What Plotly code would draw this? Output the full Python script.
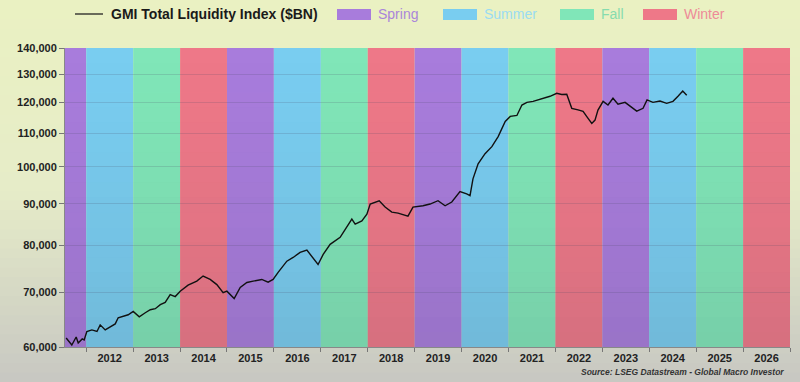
import plotly.graph_objects as go
import math

# ---------------- data ----------------
dates = [
    "2011-07-29", "2011-09-11", "2011-10-15", "2011-10-31", "2011-12-01", "2011-12-16",
    "2012-01-06", "2012-02-14", "2012-03-25", "2012-04-19", "2012-05-28", "2012-07-06",
    "2012-08-14", "2012-09-06", "2012-10-15", "2012-11-23", "2013-01-01", "2013-02-17",
    "2013-04-05", "2013-05-14", "2013-06-22", "2013-07-31", "2013-09-07", "2013-10-16",
    "2013-11-24", "2014-01-02", "2014-03-04", "2014-05-11", "2014-06-29", "2014-08-23",
    "2014-10-14", "2014-12-02", "2014-12-31", "2015-02-26", "2015-04-14", "2015-06-05",
    "2015-07-24", "2015-09-29", "2015-11-17", "2015-12-26", "2016-02-03", "2016-04-11",
    "2016-05-30", "2016-07-23", "2016-09-14", "2016-10-23", "2016-12-10", "2017-01-19",
    "2017-03-14", "2017-05-31", "2017-08-30", "2017-09-25", "2017-11-16", "2017-12-25",
    "2018-01-20", "2018-03-31", "2018-05-16", "2018-07-07", "2018-08-25", "2018-11-10",
    "2018-12-19", "2019-03-07", "2019-05-01", "2019-07-02", "2019-08-26", "2019-10-17",
    "2019-12-20", "2020-02-10", "2020-03-07", "2020-03-30", "2020-05-09", "2020-07-02",
    "2020-08-24", "2020-10-12", "2020-12-06", "2021-01-14", "2021-03-07", "2021-04-15",
    "2021-05-24", "2021-07-11", "2021-09-17", "2021-11-20", "2022-01-11", "2022-02-19",
    "2022-03-30", "2022-05-08", "2022-06-26", "2022-08-04", "2022-09-12", "2022-10-11",
    "2022-11-05", "2022-11-28", "2023-01-07", "2023-02-14", "2023-03-25", "2023-05-03",
    "2023-06-27", "2023-08-05", "2023-09-26", "2023-11-14", "2023-12-15", "2024-01-30",
    "2024-03-25", "2024-05-16", "2024-07-04", "2024-08-12", "2024-09-18", "2024-10-19",
]
liquidity = [
    61550, 60340, 61730, 60690, 61390, 61210,
    62680, 62980, 62700, 63890, 62980, 63580,
    64060, 65180, 65420, 65740, 66360, 65370,
    66120, 66690, 66880, 67650, 68090, 69610,
    69220, 70280, 71500, 72320, 73370, 72670,
    71610, 70000, 70280, 68820, 71020, 72030,
    72310, 72660, 72100, 72660, 74120, 76520,
    77330, 78440, 78960, 77620, 75810, 78000,
    80260, 81880, 86200, 84980, 85780, 87430,
    89970, 90820, 89200, 87940, 87680, 86930,
    89200, 89530, 89970, 90820, 89530, 90490,
    93190, 92580, 92130, 96630, 100850, 103760,
    105860, 108920, 113680, 115330, 115650, 119110,
    120020, 120360, 121170, 122100, 123150, 122700,
    122800, 118000, 117500, 117000, 114690, 113060,
    114130, 117420, 120360, 119110, 121420, 119360,
    120020, 118670, 117080, 118000, 120830, 120020,
    120470, 119690, 120360, 122100, 123950, 122440,
]

years = list(range(2011, 2027))
season_names = ["Spring", "Summer", "Fall", "Winter"]
season_colors = {"Spring": "#A87CDC", "Summer": "#79CDF0", "Fall": "#80E6B8", "Winter": "#EE7888"}
season_text_colors = {"Spring": "#A985DA", "Summer": "#9ADCF2", "Fall": "#86DCAE", "Winter": "#EE8A98"}
y_ticks = [60000, 70000, 80000, 90000, 100000, 110000, 120000, 130000, 140000]

x_start = "2011-07-20"
x_end = "2027-01-01"

FONT = "Liberation Sans, Arial, sans-serif"

# ---------------- layout helpers ----------------
W, H = 800, 382
L, R, T, B = 65, 10, 48, 35
PW, PH = W - L - R, H - T - B


def px_x(px):
    return (px - L) / PW


def px_y(py):
    return (H - B - py) / PH


shapes = []

# background vertical gradient (yellow-green top -> grey bottom)
top_c = (234, 241, 194)
mid_c = (230, 236, 200)
bot_c = (200, 200, 194)
n = 40
for i in range(n):
    f = i / (n - 1)
    if f < 0.5:
        g = f / 0.5
        c = [round(top_c[k] + (mid_c[k] - top_c[k]) * g) for k in range(3)]
    else:
        g = (f - 0.5) / 0.5
        c = [round(mid_c[k] + (bot_c[k] - mid_c[k]) * g) for k in range(3)]
    y0 = H * i / n
    y1 = H * (i + 1) / n + 1
    shapes.append(dict(type="rect", xref="paper", yref="paper",
                       x0=px_x(-5), x1=px_x(W + 5), y0=px_y(y1), y1=px_y(y0),
                       fillcolor=f"rgb({c[0]},{c[1]},{c[2]})", line=dict(width=0), layer="below"))

# season bands
for i, yr in enumerate(years):
    s = season_names[i % 4]
    x0 = f"{yr}-01-01" if yr > years[0] else x_start
    shapes.append(dict(type="rect", xref="x", yref="paper",
                       x0=x0, x1=f"{yr + 1}-01-01", y0=0, y1=1,
                       fillcolor=season_colors[s], line=dict(width=0), layer="below"))

# darkening toward bottom of plot area
m = 20
for i in range(m):
    f = i / m
    alpha = 0.13 * (1 - f) ** 1.5
    shapes.append(dict(type="rect", xref="paper", yref="paper",
                       x0=0, x1=1, y0=f, y1=f + 1 / m,
                       fillcolor=f"rgba(60,60,70,{alpha:.3f})", line=dict(width=0), layer="below"))

# legend: line sample
shapes.append(dict(type="line", xref="paper", yref="paper",
                   x0=px_x(75), x1=px_x(103), y0=px_y(14), y1=px_y(14),
                   line=dict(color="#222222", width=1.3)))
annotations = [dict(text="GMI Total Liquidity Index ($BN)", xref="paper", yref="paper",
                    x=px_x(109), y=px_y(14), xanchor="left", yanchor="middle", showarrow=False,
                    font=dict(family=FONT, size=14, color="#1a1a1a", weight="bold"))]

leg_box_x = [337, 443, 560, 643]
for s, bx in zip(season_names, leg_box_x):
    shapes.append(dict(type="rect", xref="paper", yref="paper",
                       x0=px_x(bx), x1=px_x(bx + 34), y0=px_y(20), y1=px_y(9),
                       fillcolor=season_colors[s], line=dict(width=0)))
    annotations.append(dict(text=s, xref="paper", yref="paper",
                            x=px_x(bx + 39), y=px_y(14), xanchor="left", yanchor="middle",
                            showarrow=False,
                            font=dict(family=FONT, size=14, color=season_text_colors[s])))

annotations.append(dict(text="<i>Source: LSEG Datastream - Global Macro Investor</i>",
                        xref="paper", yref="paper", x=px_x(786), y=px_y(372),
                        xanchor="right", yanchor="middle", showarrow=False,
                        font=dict(family=FONT, size=8.5, color="#333333", weight="bold")))

fig = go.Figure()
fig.add_trace(go.Scatter(x=dates, y=liquidity, mode="lines",
                         line=dict(color="#111111", width=1.4),
                         name="GMI Total Liquidity Index ($BN)", showlegend=False))

fig.update_layout(
    width=W, height=H,
    margin=dict(l=L, r=R, t=T, b=B),
    paper_bgcolor="rgb(228,234,200)",
    plot_bgcolor="rgba(0,0,0,0)",
    shapes=shapes,
    annotations=annotations,
    showlegend=False,
    xaxis=dict(
        type="date", range=[x_start, x_end],
        tick0="2012-01-01", dtick="M12", ticklabelmode="period", tickformat="%Y",
        ticks="outside", ticklen=4, tickcolor="#777777",
        showline=True, linecolor="#888888", linewidth=1,
        showgrid=False, ticklabelstandoff=-3,
        tickfont=dict(family=FONT, size=11, color="#222222", weight="bold"),
    ),
    yaxis=dict(
        type="log", range=[math.log10(60000), math.log10(140000)],
        tickvals=y_ticks, ticktext=[f"{v:,}" for v in y_ticks],
        ticks="outside", ticklen=5, tickcolor="#777777",
        showline=True, linecolor="#888888", linewidth=1,
        showgrid=True, gridcolor="rgba(70,70,100,0.18)", gridwidth=1,
        zeroline=False,
        tickfont=dict(family=FONT, size=11, color="#222222", weight="bold"),
    ),
)

fig.write_html("out.html", config={"displayModeBar": False},
               post_script="document.body.style.margin='0';document.body.style.overflow='hidden';")
